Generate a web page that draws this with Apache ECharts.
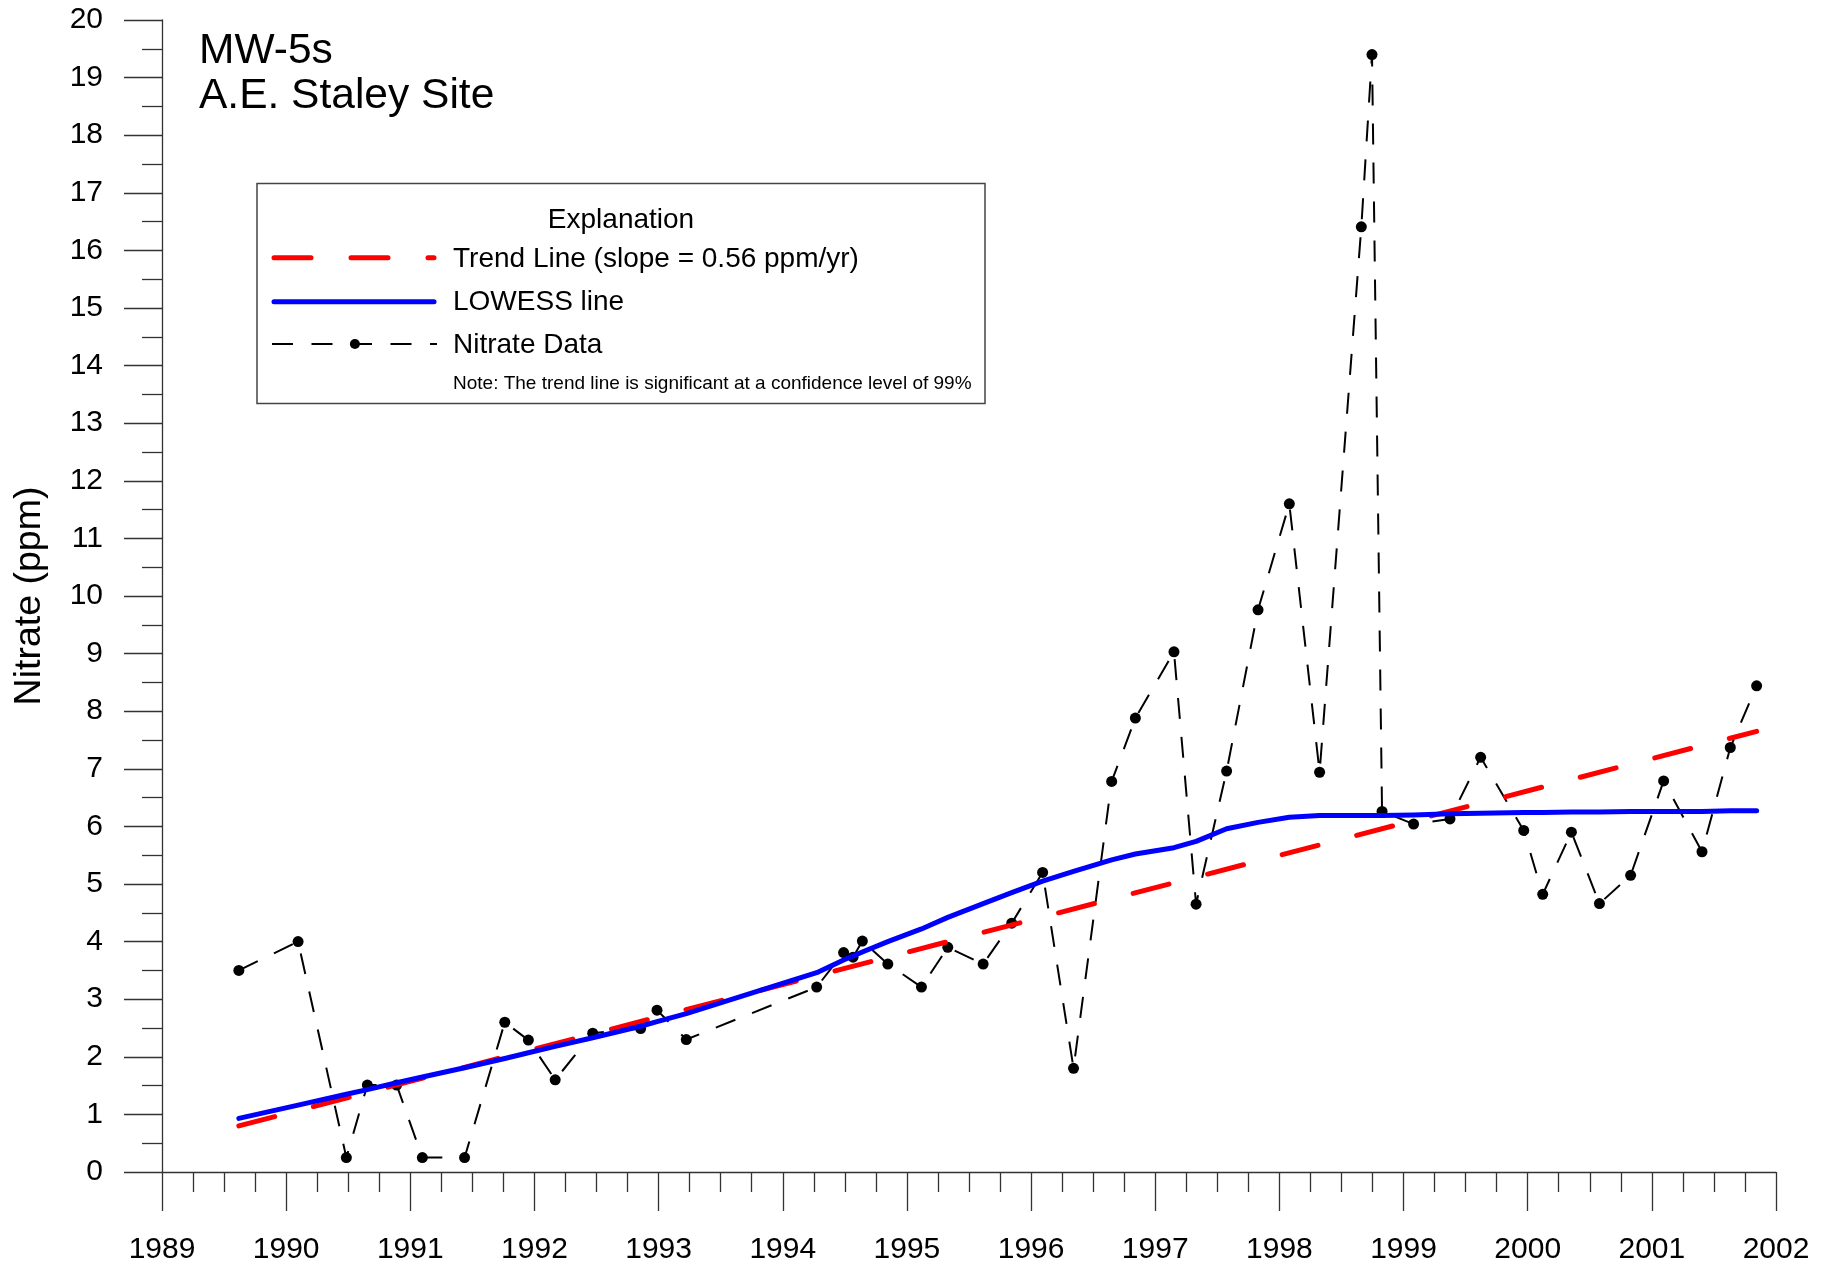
<!DOCTYPE html>
<html>
<head>
<meta charset="utf-8">
<script src="https://cdn.jsdelivr.net/npm/echarts@6/dist/echarts.min.js"></script>
<style>
html,body{margin:0;padding:0;background:#fff;}
#chart{width:1835px;height:1267px;}
</style>
</head>
<body>
<div id="chart"></div>
<script>
// ---- Data (decimal year, ppm) ----
const sampleDates = [1989.619, 1990.096, 1990.485, 1990.654, 1990.890, 1991.097, 1991.437, 1991.761, 1991.951, 1992.167,
  1992.469, 1992.855, 1992.987, 1993.223, 1994.273, 1994.490, 1994.566, 1994.641, 1994.846, 1995.117,
  1995.329, 1995.614, 1995.844, 1996.093, 1996.342, 1996.649, 1996.840, 1997.151, 1997.329, 1997.575,
  1997.828, 1998.080, 1998.324, 1998.660, 1998.746, 1998.827, 1999.081, 1999.374, 1999.621, 1999.968,
  2000.121, 2000.352, 2000.578, 2000.829, 2001.095, 2001.404, 2001.632, 2001.844];
const nitrateValues = [3.50, 4.00, 0.25, 1.51, 1.51, 0.25, 0.25, 2.60, 2.29, 1.60,
  2.41, 2.49, 2.81, 2.30, 3.21, 3.81, 3.73, 4.01, 3.61, 3.21,
  3.90, 3.61, 4.32, 5.20, 1.80, 6.78, 7.88, 9.03, 4.65, 6.96,
  9.76, 11.60, 6.94, 16.41, 19.40, 6.26, 6.04, 6.13, 7.20, 5.93,
  4.82, 5.90, 4.66, 5.15, 6.79, 5.56, 7.37, 8.44];
const lowessValues = [0.93, 1.16, 1.35, 1.43, 1.55, 1.65, 1.81, 1.97, 2.07, 2.18,
  2.33, 2.53, 2.61, 2.75, 3.46, 3.68, 3.75, 3.82, 4.00, 4.22,
  4.42, 4.66, 4.85, 5.05, 5.22, 5.42, 5.52, 5.63, 5.74, 5.96,
  6.07, 6.16, 6.19, 6.19, 6.19, 6.19, 6.20, 6.22, 6.23, 6.24,
  6.24, 6.25, 6.25, 6.26, 6.26, 6.26, 6.27, 6.27];
const trendDates = [1989.619, 2001.844];
const trendValues = [0.80, 7.65];
const xRange = [1989, 2002];
const yRange = [0, 20];

const titleLines = ['MW-5s', 'A.E. Staley Site'];
const legendTitle = 'Explanation';
const legendLabels = ['Trend Line (slope = 0.56 ppm/yr)', 'LOWESS line', 'Nitrate Data'];
const legendNote = 'Note: The trend line is significant at a confidence level of 99%';
const yAxisTitle = 'Nitrate (ppm)';

const FONT = '"Liberation Sans", Arial, Helvetica, sans-serif';
const zip = (xs, ys) => xs.map((x, i) => [x, ys[i]]);

const chart = echarts.init(document.getElementById('chart'), null, {renderer: 'canvas'});
const axisColor = '#333';

const option = {
  animation: false,
  backgroundColor: '#fff',
  grid: {left: 162, right: 59, top: 20, bottom: 95, containLabel: false},
  xAxis: {
    type: 'value', min: xRange[0], max: xRange[1], interval: 1,
    axisLine: {show: true, onZero: false, lineStyle: {color: axisColor, width: 1.3}},
    axisTick: {show: true, inside: false, length: 39, lineStyle: {color: axisColor, width: 1.3}},
    minorTick: {show: true, splitNumber: 4, length: 20, lineStyle: {color: axisColor, width: 1.3}},
    splitLine: {show: false}, minorSplitLine: {show: false},
    axisLabel: {show: true, margin: 63, fontSize: 30, fontFamily: FONT, color: '#000',
      formatter: v => String(Math.round(v))}
  },
  yAxis: {
    type: 'value', min: yRange[0], max: yRange[1], interval: 1,
    name: yAxisTitle, nameLocation: 'middle', nameRotate: 90, nameGap: 113,
    nameTextStyle: {fontSize: 37.5, fontFamily: FONT, color: '#000'},
    axisLine: {show: true, onZero: false, lineStyle: {color: axisColor, width: 1.3}},
    axisTick: {show: true, inside: false, length: 38, lineStyle: {color: axisColor, width: 1.3}},
    minorTick: {show: true, splitNumber: 2, length: 20, lineStyle: {color: axisColor, width: 1.3}},
    splitLine: {show: false}, minorSplitLine: {show: false},
    axisLabel: {show: true, margin: 59, fontSize: 30, fontFamily: FONT, color: '#000'}
  },
  series: [
    {
      name: legendLabels[2], type: 'line', data: zip(sampleDates, nitrateValues),
      symbol: 'circle', symbolSize: 11, showAllSymbol: true,
      itemStyle: {color: '#000'},
      lineStyle: {color: '#000', width: 2, type: [21, 18]},
      z: 2
    },
    {
      name: legendLabels[0], type: 'line', data: zip(trendDates, trendValues),
      symbol: 'none',
      lineStyle: {color: '#ff0000', width: 5, type: [37, 40], cap: 'round'},
      z: 3
    },
    {
      name: legendLabels[1], type: 'line', data: zip(sampleDates, lowessValues),
      symbol: 'none',
      lineStyle: {color: '#0000ff', width: 5, cap: 'round', join: 'round'},
      z: 4
    }
  ],
  graphic: [
    {type: 'text', x: 199, y: 51, z: 10,
      style: {text: titleLines[0], fontSize: 42.5, fontFamily: FONT, fill: '#000', verticalAlign: 'middle', align: 'left'}},
    {type: 'text', x: 199, y: 96, z: 10,
      style: {text: titleLines[1], fontSize: 42.5, fontFamily: FONT, fill: '#000', verticalAlign: 'middle', align: 'left'}},
    {type: 'rect', z: 10, shape: {x: 257, y: 183.5, width: 728, height: 220},
      style: {fill: '#fff', stroke: '#444', lineWidth: 1.5}},
    {type: 'text', x: 621, y: 220.3, z: 11,
      style: {text: legendTitle, fontSize: 28, fontFamily: FONT, fill: '#000', verticalAlign: 'middle', align: 'center'}},
    {type: 'line', z: 11, shape: {x1: 274, y1: 257.7, x2: 434, y2: 257.7},
      style: {stroke: '#ff0000', lineWidth: 5, lineDash: [37, 40], lineCap: 'round'}},
    {type: 'text', x: 453, y: 259.3, z: 11,
      style: {text: legendLabels[0], fontSize: 28, fontFamily: FONT, fill: '#000', verticalAlign: 'middle', align: 'left'}},
    {type: 'line', z: 11, shape: {x1: 274, y1: 301.7, x2: 434, y2: 301.7},
      style: {stroke: '#0000ff', lineWidth: 5, lineCap: 'round'}},
    {type: 'text', x: 453, y: 302, z: 11,
      style: {text: legendLabels[1], fontSize: 28, fontFamily: FONT, fill: '#000', verticalAlign: 'middle', align: 'left'}},
    {type: 'line', z: 11, shape: {x1: 272, y1: 344, x2: 437, y2: 344},
      style: {stroke: '#000', lineWidth: 2, lineDash: [21, 18.5]}},
    {type: 'circle', z: 12, shape: {cx: 354.9, cy: 344, r: 5}, style: {fill: '#000'}},
    {type: 'text', x: 453, y: 345.3, z: 11,
      style: {text: legendLabels[2], fontSize: 28, fontFamily: FONT, fill: '#000', verticalAlign: 'middle', align: 'left'}},
    {type: 'text', x: 453, y: 383.4, z: 11,
      style: {text: legendNote, fontSize: 19, fontFamily: FONT, fill: '#000', verticalAlign: 'middle', align: 'left'}}
  ]
};
chart.setOption(option);
</script>
</body>
</html>
